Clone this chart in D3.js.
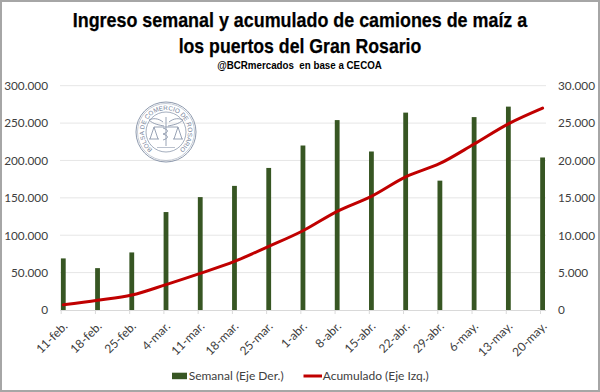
<!DOCTYPE html>
<html><head><meta charset="utf-8">
<script src="https://cdn.jsdelivr.net/npm/d3@7/dist/d3.min.js"></script>
<style>html,body{margin:0;padding:0;background:#fff}svg{display:block}</style></head>
<body><svg id="c" width="600" height="392"></svg>
<script>
const categories=["11-feb.","18-feb.","25-feb.","4-mar.","11-mar.","18-mar.","25-mar.","1-abr.","8-abr.","15-abr.","22-abr.","29-abr.","6-may.","13-may.","20-may."];
const semanal=[6900,5600,7700,13100,15100,16600,19000,22000,25400,21200,26400,17300,25800,27200,20400];
const acumulado=[7000,13000,20000,34000,49000,65000,85000,106000,132000,152000,178000,196000,222000,249000,270000];
const leftTicks=[0,50000,100000,150000,200000,250000,300000];
const rightTicks=[0,5000,10000,15000,20000,25000,30000];
const titleLines=["Ingreso semanal y acumulado de camiones de maíz a","los puertos del Gran Rosario"];
const titleWidths=[454.5,242.7];
const subtitle="@BCRmercados  en base a CECOA";
const legendLabels=["Semanal (Eje Der.)","Acumulado (Eje Izq.)"];
const sealText="BOLSA DE COMERCIO DE ROSARIO";

const svg=d3.select("#c");
const font="Lato, 'Open Sans', sans-serif", tc="#404040", head="'Liberation Sans',sans-serif";
const fmt=v=>d3.format(",")(v).replace(/,/g,".");
const x=d3.scalePoint().domain(categories).range([63.3,542.6]);
const yL=d3.scaleLinear().domain([0,300000]).range([310,85.7]);
const yR=d3.scaleLinear().domain([0,30000]).range([310,85.7]);

svg.append("rect").attr("x",1).attr("y",1).attr("width",598).attr("height",390).attr("fill","#fff").attr("stroke","#a6a6a6").attr("stroke-width",2);

// gridlines
svg.append("g").selectAll("line").data(leftTicks.slice(1)).join("line")
 .attr("x1",60).attr("x2",546).attr("y1",d=>yL(d)).attr("y2",d=>yL(d)).attr("stroke","#e6e6e6").attr("stroke-width",1);

// seal
const cx=166,cy=132,rT=22,a0=Math.PI*0.87;
const seal=svg.append("g").attr("transform",`translate(${cx},${cy})`).attr("fill","none").attr("stroke","#8d99ad");
seal.append("circle").attr("r",30).attr("stroke-width",1);
seal.append("circle").attr("r",28.5).attr("stroke-width",.5);
seal.append("circle").attr("r",20).attr("stroke-width",.8);
seal.append("path").attr("d","M0,-15V14M-3,-10C-8,-14-13,-14-17,-12C-13,-8-7,-7-2,-6M3,-10C8,-14,13,-14,17,-12C13,-8,7,-7,2,-6M-12,-5H12M-12,-5L-16,7M-12,-5L-8,7M12,-5L16,7M12,-5L8,7M-17,7H-7M7,7H17M-3,-4C3,-2,3,0,-3,2C3,4,3,6,-3,8").attr("stroke-width",.9);
seal.append("path").attr("d","M-9,15.5H9").attr("stroke-width",.6);
const px=cx-rT*Math.sin(a0),py=cy-rT*Math.cos(a0),qx=cx+rT*Math.sin(a0),qy=py;
svg.append("defs").append("path").attr("id","sealArc").attr("d",`M${px},${py}A${rT},${rT},0,1,1,${qx},${qy}`);
svg.append("text").attr("font-family",head).attr("font-size",6.3).attr("fill","#76849b")
 .append("textPath").attr("href","#sealArc").attr("startOffset","50%").attr("text-anchor","middle").text(sealText);

// bars
svg.append("g").selectAll("rect").data(categories).join("rect")
 .attr("x",d=>x(d)-2.4).attr("width",4.8)
 .attr("y",(d,i)=>yR(semanal[i])).attr("height",(d,i)=>yR(0)-yR(semanal[i])).attr("fill","#375623");

// line
svg.append("path").datum(acumulado).attr("fill","none").attr("stroke","#c00000").attr("stroke-width",3).attr("stroke-linecap","round").attr("stroke-linejoin","round")
 .attr("d",d3.line().x((d,i)=>x(categories[i])).y(d=>yL(d)).curve(d3.curveCatmullRom.alpha(.5)));

// axes
const axL=svg.append("g").attr("transform","translate(48,0)").call(d3.axisLeft(yL).tickValues(leftTicks).tickFormat(fmt).tickSize(0).tickPadding(0));
const axR=svg.append("g").attr("transform","translate(558,0)").call(d3.axisRight(yR).tickValues(rightTicks).tickFormat(fmt).tickSize(0).tickPadding(0));
[axL,axR].forEach(a=>{a.select(".domain").remove();a.selectAll("text").attr("font-family",font).attr("font-size",11.8).attr("fill",tc);});
axR.selectAll("text").attr("x",0);axL.selectAll("text").attr("x",0);
const axB=svg.append("g").attr("transform","translate(-2.6,310)").call(d3.axisBottom(x).tickSize(4).tickPadding(6));
axB.select(".domain").attr("stroke","#d9d9d9").attr("d","M62.6,0.5H548.6");
axB.selectAll("line").attr("stroke","#d9d9d9");
axB.selectAll("text").attr("font-family",font).attr("font-size",12).attr("fill",tc)
 .attr("text-anchor","end").attr("x",0).attr("y",0).attr("dy",0).attr("transform","translate(7,17) rotate(-45)");

// titles
svg.append("g").selectAll("text").data(titleLines).join("text").attr("x",300).attr("y",(d,i)=>i?52.7:27.3)
 .attr("text-anchor","middle").attr("font-family",head).attr("font-weight","700").attr("font-size",21).attr("fill","#000").attr("stroke","#000").attr("stroke-width",.25)
 .attr("textLength",(d,i)=>titleWidths[i]).attr("lengthAdjust","spacingAndGlyphs").text(d=>d);
svg.append("text").attr("x",299.5).attr("y",69.3).attr("text-anchor","middle").attr("font-family",head).attr("font-weight","700").attr("font-size",10.5).attr("fill","#000").style("white-space","pre")
 .attr("textLength",164.7).attr("lengthAdjust","spacingAndGlyphs").text(subtitle);

// legend
const lg=svg.append("g").attr("font-family",font).attr("font-size",12).attr("fill",tc);
lg.append("rect").attr("x",172).attr("y",372.7).attr("width",15).attr("height",6.5).attr("fill","#375623");
lg.append("text").attr("x",188.7).attr("y",380).text(legendLabels[0]);
lg.append("line").attr("x1",303.5).attr("x2",322).attr("y1",376).attr("y2",376).attr("stroke","#c00000").attr("stroke-width",3);
lg.append("text").attr("x",322.7).attr("y",380).text(legendLabels[1]);
</script></body></html>
